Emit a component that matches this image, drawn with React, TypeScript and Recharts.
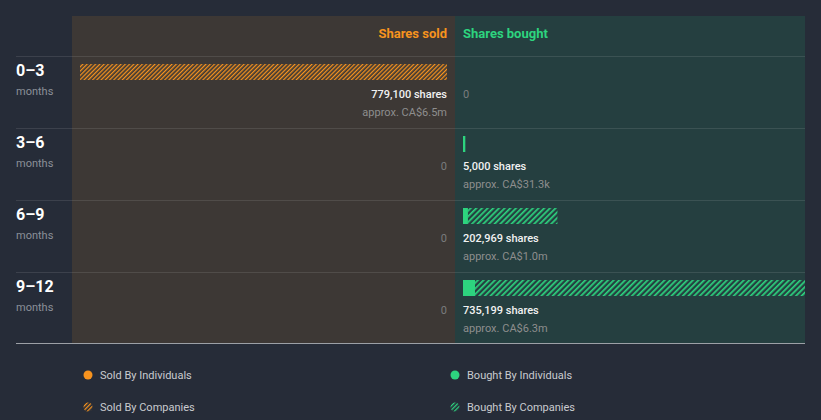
import { BarChart, Bar, XAxis, YAxis } from 'recharts';

const periods = ['0–3', '3–6', '6–9', '9–12'];
const soldByIndividuals = [0, 0, 0, 0];
const soldByCompanies = [779100, 0, 0, 0];
const boughtByIndividuals = [0, 5000, 10600, 25800];
const boughtByCompanies = [0, 0, 192369, 709399];
const soldValues = ['CA$6.5m', '', '', ''];
const boughtValues = ['', 'CA$31.3k', 'CA$1.0m', 'CA$6.3m'];

const ORANGE = '#f7931e';
const GREEN = '#2dd47f';
const BG = '#262c38';
const SOLD_BG = '#3d3835';
const BOUGHT_BG = '#253f40';
const FONT = 'Roboto, "Noto Sans", sans-serif';

const soldRows = periods.map((p, i) => ({
  period: p,
  ind: soldByIndividuals[i],
  comp: soldByCompanies[i],
  total: soldByIndividuals[i] + soldByCompanies[i],
  value: soldValues[i],
}));

const boughtRows = periods.map((p, i) => ({
  period: p,
  ind: boughtByIndividuals[i],
  comp: boughtByCompanies[i],
  total: boughtByIndividuals[i] + boughtByCompanies[i],
  value: boughtValues[i],
}));

const soldMax = Math.max(...soldRows.map((r) => r.total));
const boughtMax = Math.max(...boughtRows.map((r) => r.total));

const legendItems = [
  { label: 'Sold By Individuals', color: ORANGE, hatched: false },
  { label: 'Bought By Individuals', color: GREEN, hatched: false },
  { label: 'Sold By Companies', color: ORANGE, hatched: true },
  { label: 'Bought By Companies', color: GREEN, hatched: true },
];

const SOLD_W = 383;
const BOUGHT_W = 350;
const PAD = 8;
const PLOT_H = 288;
const EXTRA = 36;

// row texts drawn through the category axis ticks, so y comes from the band scale
const makeTick = (rows: any[], side: 'sold' | 'bought') => (props: any) => {
  const { y, payload } = props;
  const row = rows.find((r) => r.period === payload.value) || rows[payload.index];
  const zeroX = side === 'sold' ? SOLD_W - PAD : PAD;
  const anchor = side === 'sold' ? 'end' : 'start';
  if (!row.total) {
    return (
      <text x={zeroX} y={y + 26} textAnchor={anchor} fill="#7a7c7e" fontSize={11} fontFamily={FONT}>
        0
      </text>
    );
  }
  return (
    <g fontFamily={FONT} fontSize={11} textAnchor={anchor}>
      <text x={zeroX} y={y + 26} fill="#f2f2f2" fontWeight={500}>
        {row.total.toLocaleString('en-US')} shares
      </text>
      <text x={zeroX} y={y + 44} fill="#8e8e8e">
        approx. {row.value}
      </text>
    </g>
  );
};

const Hatch = ({ id, color, gap }: { id: string; color: string; gap: number }) => (
  <pattern id={id} patternUnits="userSpaceOnUse" width={gap} height={gap} patternTransform="rotate(45)">
    <rect x={0} y={0} width={gap * 0.42} height={gap} fill={color} />
  </pattern>
);

export default function App() {
  const rowLines = [56, 128, 200, 272];
  return (
    <div
      style={{
        position: 'fixed', left: 0, top: 0, width: 821, height: 420,
        background: BG, fontFamily: FONT, overflow: 'hidden',
      }}
    >
      <div style={{ position: 'absolute', left: 72, top: 16, width: SOLD_W, height: 327, background: SOLD_BG }} />
      <div style={{ position: 'absolute', left: 455, top: 16, width: BOUGHT_W, height: 327, background: BOUGHT_BG }} />

      <div style={{ position: 'absolute', right: 821 - 447, top: 26, color: ORANGE, fontSize: 13, fontWeight: 700 }}>
        Shares sold
      </div>
      <div style={{ position: 'absolute', left: 463, top: 26, color: GREEN, fontSize: 13, fontWeight: 700 }}>
        Shares bought
      </div>

      {rowLines.map((y) => (
        <div key={y} style={{ position: 'absolute', left: 16, top: y, width: 789, height: 1, background: 'rgba(255,255,255,0.1)' }} />
      ))}
      <div style={{ position: 'absolute', left: 16, top: 343, width: 789, height: 1, background: '#9ca0a6' }} />

      {periods.map((p, i) => (
        <div key={p} style={{ position: 'absolute', left: 16, top: 61 + i * 72 }}>
          <div style={{ color: '#ffffff', fontSize: 16, fontWeight: 700, lineHeight: '20px' }}>{p}</div>
          <div style={{ color: '#8b9099', fontSize: 11, lineHeight: '14px', marginTop: 4 }}>months</div>
        </div>
      ))}

      <div style={{ position: 'absolute', left: 72, top: 36 }}>
        <BarChart
          width={SOLD_W}
          height={PLOT_H + EXTRA}
          data={soldRows}
          layout="vertical"
          barSize={16}
          margin={{ top: 0, right: PAD - 1, bottom: EXTRA, left: PAD }}
        >
          <defs>
            <Hatch id="hatchOrange" color={ORANGE} gap={3} />
          </defs>
          <XAxis type="number" hide reversed domain={[0, soldMax]} />
          <YAxis
            type="category"
            dataKey="period"
            orientation="right"
            width={1}
            axisLine={false}
            tickLine={false}
            interval={0}
            tick={makeTick(soldRows, 'sold')}
          />
          <Bar dataKey="ind" stackId="s" fill={ORANGE} isAnimationActive={false} />
          <Bar dataKey="comp" stackId="s" fill="url(#hatchOrange)" isAnimationActive={false} />
        </BarChart>
      </div>

      <div style={{ position: 'absolute', left: 455, top: 36 }}>
        <BarChart
          width={BOUGHT_W}
          height={PLOT_H + EXTRA}
          data={boughtRows}
          layout="vertical"
          barSize={16}
          margin={{ top: 0, right: 0, bottom: EXTRA, left: PAD - 1 }}
        >
          <defs>
            <Hatch id="hatchGreen" color={GREEN} gap={4} />
          </defs>
          <XAxis type="number" hide domain={[0, boughtMax]} />
          <YAxis
            type="category"
            dataKey="period"
            width={1}
            axisLine={false}
            tickLine={false}
            interval={0}
            tick={makeTick(boughtRows, 'bought')}
          />
          <Bar dataKey="ind" stackId="b" fill={GREEN} isAnimationActive={false} />
          <Bar dataKey="comp" stackId="b" fill="url(#hatchGreen)" isAnimationActive={false} />
        </BarChart>
      </div>

      {legendItems.map((item, i) => {
        const left = i % 2 === 0 ? 83 : 450;
        const top = i < 2 ? 368 : 400;
        const pid = `legend-hatch-${i}`;
        return (
          <div key={item.label} style={{ position: 'absolute', left, top, display: 'flex', alignItems: 'center', height: 14 }}>
            <svg width={10} height={10} style={{ marginRight: 7 }}>
              {item.hatched && (
                <defs>
                  <Hatch id={pid} color={item.color} gap={3} />
                </defs>
              )}
              <circle cx={5} cy={5} r={4.5} fill={item.hatched ? `url(#${pid})` : item.color} />
            </svg>
            <span style={{ color: '#c9cbcf', fontSize: 11 }}>{item.label}</span>
          </div>
        );
      })}
    </div>
  );
}
